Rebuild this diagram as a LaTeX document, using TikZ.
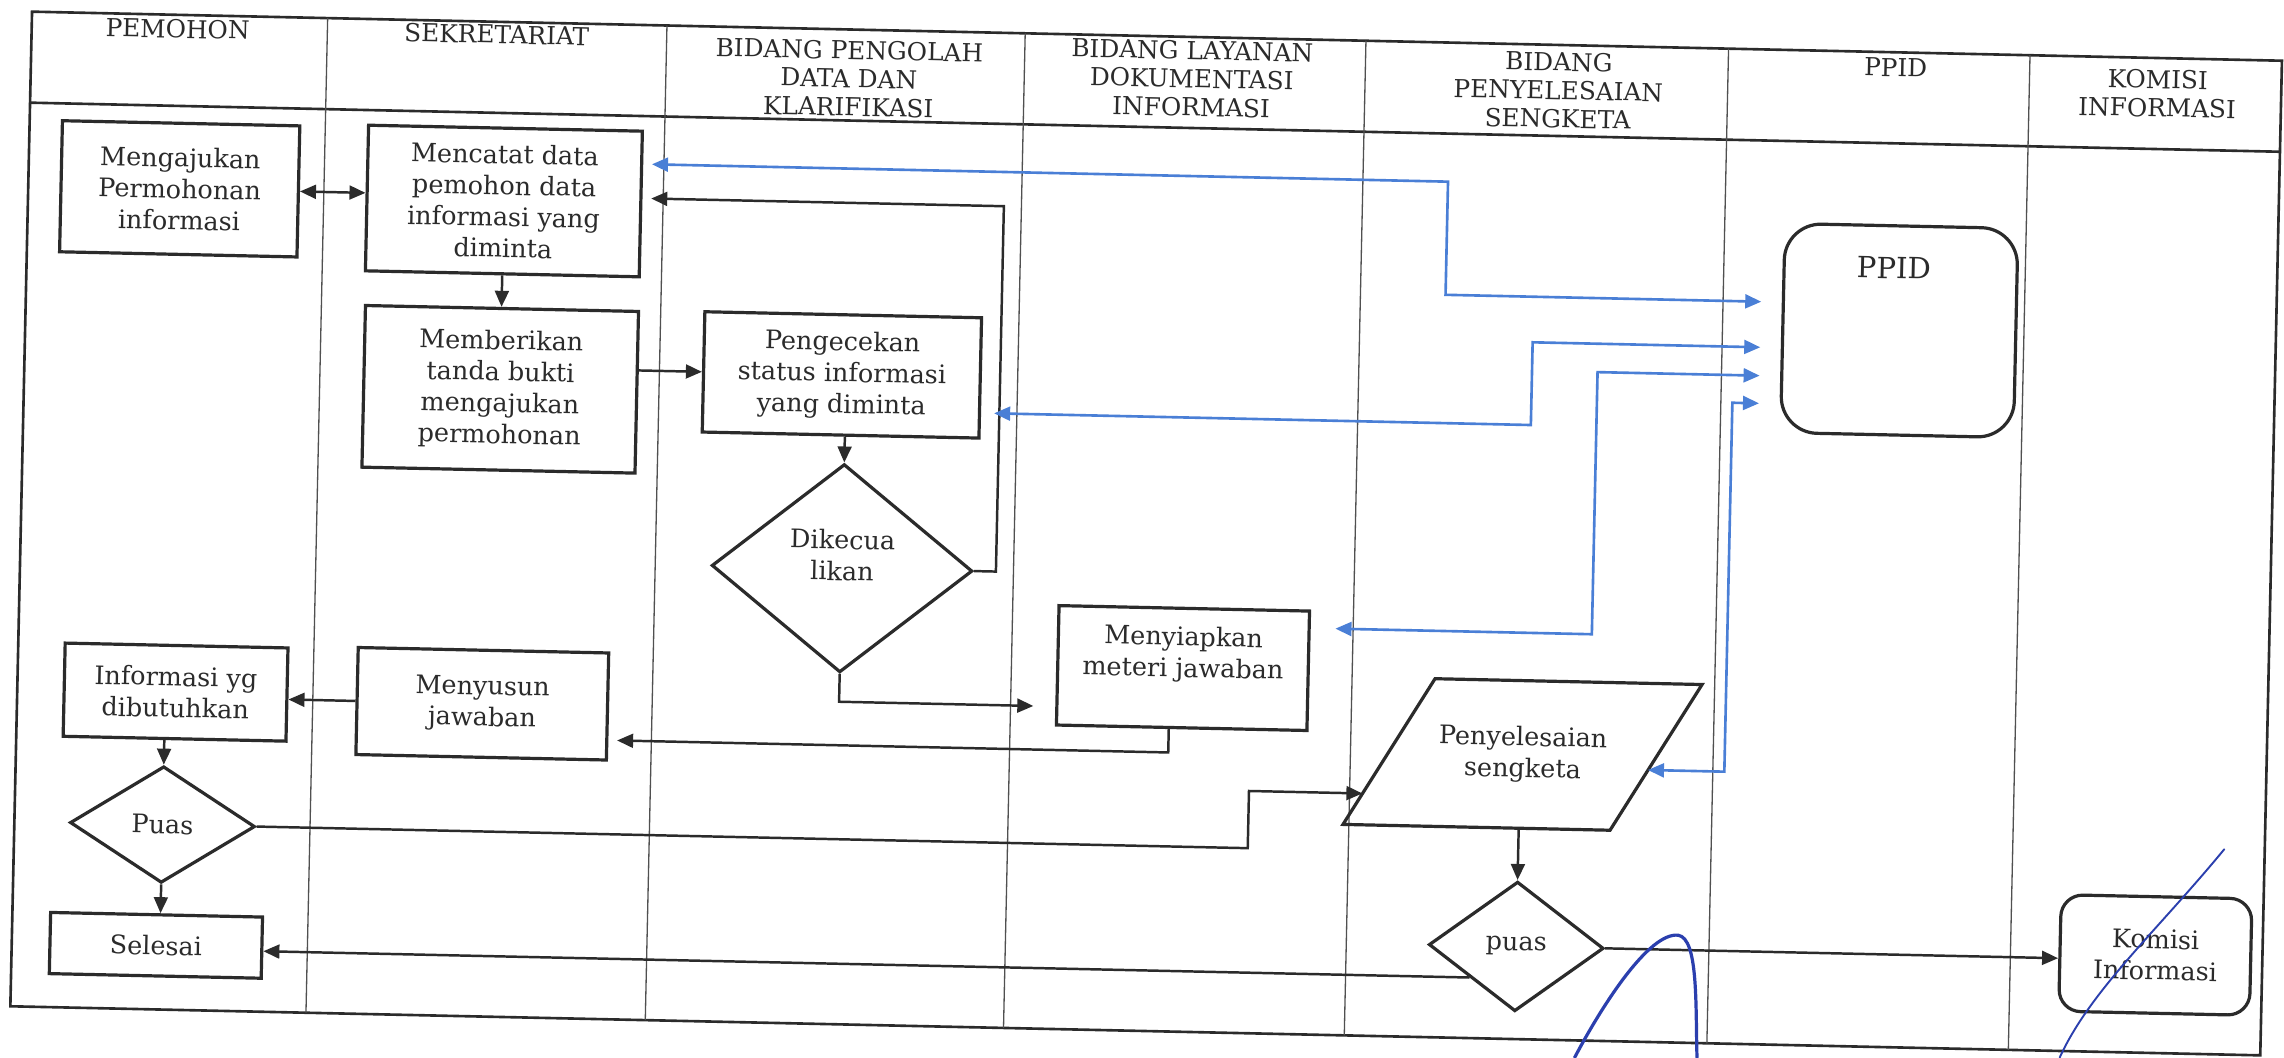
\documentclass[tikz,border=0pt]{standalone}
\usepackage{fontspec}
\setmainfont{DejaVu Serif}
\usetikzlibrary{arrows.meta,shapes.geometric,calc}
\definecolor{ink}{HTML}{2B2B2B}
\definecolor{laneln}{HTML}{505050}
\definecolor{cblue}{HTML}{4A7FD6}
\definecolor{sig}{HTML}{2B3FAE}
\newcommand{\mybody}{\fontsize{17.5}{21.5}\selectfont}
\newcommand{\myhead}{\fontsize{17}{19.5}\selectfont}
\newcommand{\mybig}{\fontsize{20}{24}\selectfont}
\begin{document}
\begin{tikzpicture}[x=1pt,y=-1pt,
  box/.style={draw=ink, line width=2.2pt, align=center, font=\mybody, text=ink, inner sep=0pt},
  dia/.style={box, shape=diamond},
  rbox/.style={box, rounded corners=#1},
  txt/.style={align=center, font=\mybody, text=ink, inner sep=0pt},
  hdr/.style={align=center, font=\myhead, text=ink, inner sep=0pt, anchor=north},
  shapeln/.style={draw=ink, line width=2.2pt, line join=miter},
  arr/.style={draw=ink, line width=1.7pt, -{Triangle[length=11pt,width=9.5pt]}},
  darr/.style={draw=ink, line width=1.7pt, {Triangle[length=11pt,width=9.5pt]}-{Triangle[length=11pt,width=9.5pt]}},
  bdarr/.style={draw=cblue, line width=1.8pt, {Triangle[length=11pt,width=9.5pt]}-{Triangle[length=11pt,width=9.5pt]}},
  frame/.style={draw=ink, line width=1.8pt},
  lanel/.style={draw=laneln, line width=0.9pt},
  pen/.style={draw=sig, line cap=round}]
\useasboundingbox (0,0) rectangle (1568,726);
\fill[white] (0,0) rectangle (1568,726);
\begin{scope}[shift={(22,8)}, rotate=-1.25, transform shape]
  % frame and lanes
  \draw[frame] (0,0) rectangle (1545,683);
  \draw[frame] (0,62.5) -- (1545,62.5);
  \foreach \x in {203,436,682,916,1165,1372} \draw[lanel] (\x,0) -- (\x,683);
  % headers
  \node[hdr] (h1) at (100.2,3) {PEMOHON};
  \node[hdr] (h2) at (319.3,2) {SEKRETARIAT};
  \node[hdr] (h3) at (561.6,7.5) {BIDANG PENGOLAH\\DATA DAN\\KLARIFIKASI};
  \node[hdr] (h4) at (797,2.5) {BIDANG LAYANAN\\DOKUMENTASI\\INFORMASI};
  \node[hdr] (h5) at (1048.8,5) {BIDANG\\PENYELESAIAN\\SENGKETA};
  \node[hdr] (h6) at (1280,4) {PPID};
  \node[hdr] (h7) at (1460,8) {KOMISI\\INFORMASI};
  % nodes
  \node[box, minimum width=163, minimum height=90] (aju) at (104,119.4) {Mengajukan\\Permohonan\\informasi};
  \node[box, minimum width=188, minimum height=100] (cat) at (326.7,122.9) {Mencatat data\\pemohon data\\informasi yang\\diminta};
  \node[box, minimum width=187.5, minimum height=111] (beri) at (327,252.2) {Memberikan\\tanda bukti\\mengajukan\\permohonan};
  \node[box, minimum width=190, minimum height=82.6] (cek) at (561.3,237.2) {Pengecekan\\status informasi\\yang diminta};
  \node[dia, minimum width=179, minimum height=143] (dik) at (564.3,369.9) {};
  \node[txt] (diktx) at (564.3,361) {Dikecua\\likan};
  \node[box, minimum width=172, minimum height=82] (siap) at (799.8,433.3) {};
  \node[txt] (siaptx) at (799.8,424) {Menyiapkan\\meteri jawaban};
  \node[box, minimum width=153, minimum height=64] (info) at (108.7,464.9) {Informasi yg\\dibutuhkan};
  \node[box, minimum width=172, minimum height=73.5] (susun) at (319.4,468.3) {Menyusun\\jawaban};
  \node[dia, minimum width=127, minimum height=80] (puas) at (101.7,556) {Puas};
  \node[box, minimum width=145.5, minimum height=42] (sel) at (99,639) {Selesai};
  \node[txt, minimum width=183, minimum height=101] (para) at (1034.3,487.6) {Penyelesaian\\sengketa};
  \coordinate (pTL) at ($(para.north west)!30.5pt!(para.north east)$);
  \coordinate (pTR) at ($(para.north east)!-30.5pt!(para.north west)$);
  \coordinate (pBR) at ($(para.south east)!30.5pt!(para.south west)$);
  \coordinate (pBL) at ($(para.south west)!-30.5pt!(para.south east)$);
  \draw[shapeln] (pTL) -- (pTR) -- (pBR) -- (pBL) -- cycle;
  \node[dia, minimum width=120, minimum height=89] (puas2) at (1032.7,619.4) {puas};
  \node[rbox=25pt, minimum width=160, minimum height=143.6] (ppid) at (1286.4,190.9) {};
  \node[txt, font=\mybig] (ppidtx) at (1281.8,148.1) {PPID};
  \node[rbox=15pt, minimum width=131, minimum height=80] (kom) at (1471.5,615.7) {Komisi\\Informasi};
  % helper points
  \coordinate (kend) at ($(pBL)!0.212!(pTL)$);
  \coordinate (b4end) at ($(pBR)!0.413!(pTR)$);
  \coordinate (p2pt) at ($(puas2.west)!0.485!(puas2.south)$);
  \coordinate (eup) at (670,119);
  \coordinate (fy) at (0,461.6);
  \coordinate (gpt) at (791,491.5);
  \coordinate (kx) at (847,0);
  \coordinate (b1a) at (974.5,95.5);
  \coordinate (b1b) at (974.5,173.2);
  \coordinate (b2a) at (1035,261.3);
  \coordinate (b2b) at (1035,204.5);
  \coordinate (b3a) at (1080,404);
  \coordinate (b3b) at (1080,224);
  \coordinate (b4a) at (1173,496.4);
  \coordinate (b4b) at (1173,243);
  % black connectors
  \draw[darr] (aju.east) -- (aju.east -| cat.west);
  \draw[arr] (cat.south) -- (cat.south |- beri.north);
  \draw[arr] (beri.east |- cek.west) -- (cek.west);
  \draw[arr] (dik.north |- cek.south) -- (dik.north);
  \draw[arr, shorten >=6pt] (dik.east) -| (eup) -- (eup -| cat.east);
  \draw[arr, shorten >=15pt] (dik.south) |- (fy -| siap.west);
  \draw[arr, shorten >=6pt] (gpt |- siap.south) |- (susun.east |- gpt);
  \draw[arr] (susun.west) -- (susun.west -| info.east);
  \draw[arr] (puas.north |- info.south) -- (puas.north);
  \draw[arr] (puas.south) -- (puas.south |- sel.north);
  \draw[arr] (puas.east) -| (kx |- kend) -- (kend);
  \draw[arr] (puas2.north |- para.south) -- (puas2.north);
  \draw[arr] (p2pt) -- (p2pt -| sel.east);
  \draw[arr] (puas2.east) -- (puas2.east -| kom.west);
  % blue connectors
  \draw[bdarr, shorten <=6pt, shorten >=14pt] (b1a -| cat.east) -- (b1a) -- (b1b) -- (b1b -| ppid.west);
  \draw[bdarr, shorten <=9pt, shorten >=14pt] (b2a -| cek.east) -- (b2a) -- (b2b) -- (b2b -| ppid.west);
  \draw[bdarr, shorten <=17pt, shorten >=14pt] (b3a -| siap.east) -- (b3a) -- (b3b) -- (b3b -| ppid.west);
  \draw[bdarr, shorten >=14pt] (b4end) -- (b4end -| b4a) -- (b4b) -- (b4b -| ppid.west);
\end{scope}
% pen strokes
\draw[pen, line width=2.2pt] (1081,726) .. controls (1100,690) and (1132,640) .. (1152,642) .. controls (1166,644) and (1164,690) .. (1165,726);
\draw[pen, line width=1.3pt] (1527,583) .. controls (1480,640) and (1435,680) .. (1414,726);
\end{tikzpicture}
\end{document}
